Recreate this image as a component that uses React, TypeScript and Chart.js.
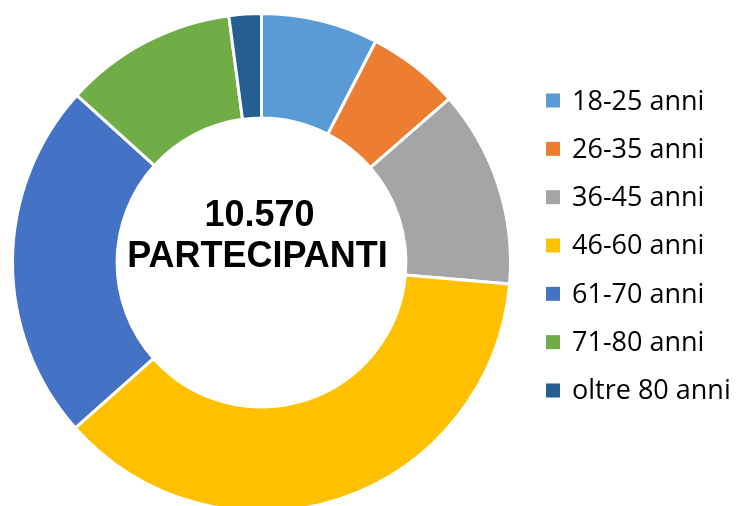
import React, { useEffect, useRef } from "react";
import { Chart, registerables } from "chart.js";

Chart.register(...registerables);

const categories = [
  "18-25 anni",
  "26-35 anni",
  "36-45 anni",
  "46-60 anni",
  "61-70 anni",
  "71-80 anni",
  "oltre 80 anni",
];
const shares = [7.6, 6.0, 12.8, 37.1, 23.3, 11.2, 2.1];
const colors = ["#5B9BD5", "#ED7D31", "#A5A5A5", "#FFC000", "#4472C4", "#70AD47", "#255E91"];
const centerLines = ["10.570", "PARTECIPANTI"];

const centerTextPlugin = {
  id: "centerText",
  afterDraw(chart: any) {
    const arc = chart.getDatasetMeta(0).data[0];
    if (!arc) return;
    const { x, y } = arc;
    const ctx = chart.ctx;
    ctx.save();
    ctx.fillStyle = "#000000";
    ctx.font = "bold 36px 'Liberation Sans', Arial, sans-serif";
    ctx.textAlign = "center";
    ctx.textBaseline = "alphabetic";
    ctx.fillText(centerLines[0], x - 2, y - 37);
    ctx.fillText(centerLines[1], x - 4, y + 4);
    ctx.restore();
  },
};

const sideLegendPlugin = {
  id: "sideLegend",
  afterDraw(chart: any) {
    const ctx = chart.ctx;
    const labels = chart.data.labels as string[];
    const bg = chart.data.datasets[0].backgroundColor as string[];
    ctx.save();
    ctx.font = "27px 'Open Sans', sans-serif";
    ctx.textAlign = "left";
    ctx.textBaseline = "alphabetic";
    labels.forEach((label, i) => {
      const cy = 100.5 + i * 48.33;
      ctx.fillStyle = bg[i];
      ctx.fillRect(546, cy - 7, 14, 14);
      ctx.fillStyle = "#000000";
      ctx.fillText(label, 572, cy + 9);
    });
    ctx.restore();
  },
};

export default function App() {
  const ref = useRef<HTMLCanvasElement | null>(null);
  useEffect(() => {
    if (!ref.current) return;
    const chart = new Chart(ref.current, {
      type: "doughnut",
      data: {
        labels: categories,
        datasets: [
          {
            data: shares,
            backgroundColor: colors,
            borderColor: "#ffffff",
            borderWidth: 3,
            hoverOffset: 0,
          },
        ],
      },
      options: {
        responsive: false,
        animation: false,
        devicePixelRatio: 1,
        events: [],
        cutout: "58%",
        layout: { padding: { top: 12, bottom: 13, left: 11, right: 227 } },
        plugins: {
          legend: { display: false },
          tooltip: { enabled: false },
        },
      },
      plugins: [centerTextPlugin, sideLegendPlugin],
    });
    return () => chart.destroy();
  }, []);
  return (
    <div
      style={{
        position: "fixed",
        left: 0,
        top: 0,
        width: 739,
        height: 506,
        overflow: "hidden",
        background: "#ffffff",
      }}
    >
      <canvas ref={ref} width={739} height={526} style={{ display: "block" }} />
    </div>
  );
}
